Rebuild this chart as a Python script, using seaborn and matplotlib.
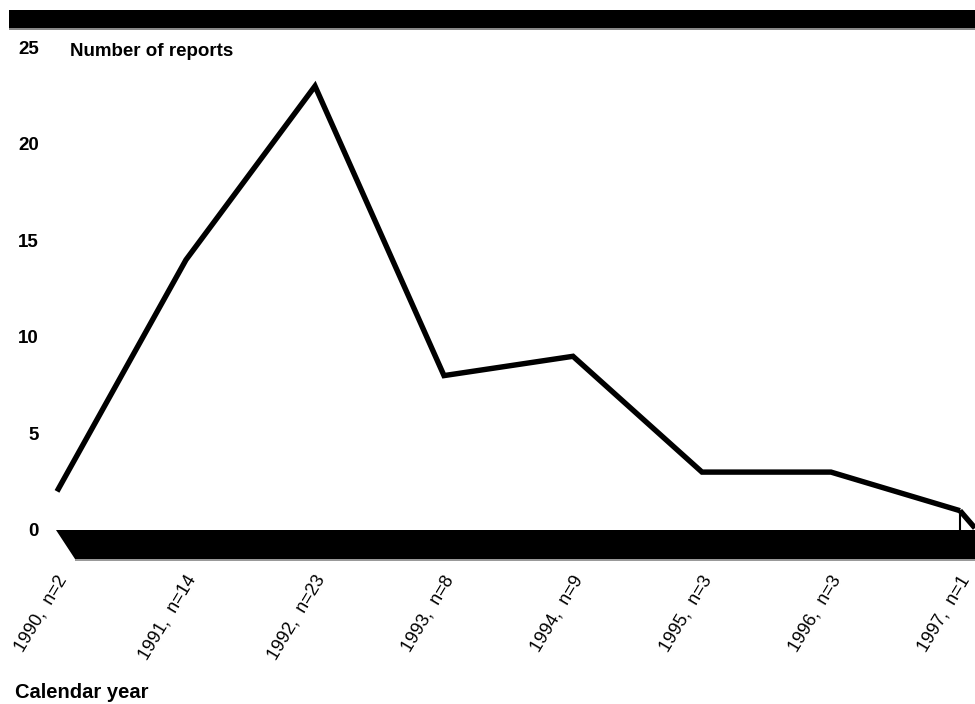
import matplotlib
matplotlib.use("Agg")
import matplotlib.pyplot as plt
import matplotlib.transforms as mtransforms
from matplotlib.patches import Polygon, Rectangle
import seaborn as sns
import pandas as pd

# ---- data ----
years = [1990, 1991, 1992, 1993, 1994, 1995, 1996, 1997]
reports = [2, 14, 23, 8, 9, 3, 3, 1]
tick_labels = ["1990,  n=2", "1991,  n=14", "1992,  n=23", "1993,  n=8",
               "1994,  n=9", "1995,  n=3", "1996,  n=3", "1997,  n=1"]
y_ticks = [0, 5, 10, 15, 20, 25]
y_title = "Number of reports"
x_title = "Calendar year"

df = pd.DataFrame({"year": years, "reports": reports})

sns.set_theme(style="white")
plt.rcParams["font.family"] = ["Liberation Sans", "DejaVu Sans"]

W, H = 975, 704
fig = plt.figure(figsize=(W / 100, H / 100), dpi=100)
fig.patch.set_facecolor("white")

def fx(px):
    return px / W

def fy(py):
    return 1 - py / H

# axes occupies pixels x 50..975, y 10..560
ax = fig.add_axes([fx(50), fy(560), fx(975) - fx(50), fy(10) - fy(560)])
ax.set_facecolor("none")

sns.lineplot(data=df, x="year", y="reports", ax=ax, color="black",
             linewidth=3.9, sort=False, solid_joinstyle="miter",
             solid_capstyle="butt", zorder=3)

px_per_year = 129.0
px_per_unit = 19.3
x0 = 1990 - (57 - 50) / px_per_year
x1 = 1990 + (975 - 57) / px_per_year
y0 = -(560 - 530) / px_per_unit
y1 = (530 - 10) / px_per_unit
ax.set_xlim(x0, x1)
ax.set_ylim(y0, y1)

for s in ax.spines.values():
    s.set_visible(False)

ax.set_xlabel("")
ax.set_ylabel("")

ax.set_yticks(y_ticks)
ax.set_yticklabels([str(v) for v in y_ticks], fontsize=13.5, fontweight="bold",
                   color="black")
ax.tick_params(axis="y", length=0, pad=8)

ax.set_xticks(years)
ax.set_xticklabels(tick_labels, fontsize=13, rotation=59, ha="right",
                   va="center", rotation_mode="anchor", color="black",
                   fontweight="medium")
ax.tick_params(axis="x", length=0, pad=12)
offset = mtransforms.ScaledTranslation(6 / 100, 0, fig.dpi_scale_trans)
for lab in ax.get_xticklabels():
    lab.set_transform(lab.get_transform() + offset)

# end decoration at last point
last_x, last_y = years[-1], reports[-1]
ax.plot([last_x, last_x], [last_y, 0], color="black", lw=1.5, zorder=3)
ax.plot([last_x, x1], [last_y, 0.1], color="black", lw=3.9, zorder=3,
        solid_capstyle="butt", clip_on=False)

# top bar
fig.patches.append(Rectangle((fx(9), fy(28)), fx(975) - fx(9), fy(10) - fy(28),
                             transform=fig.transFigure, facecolor="black",
                             edgecolor="none", zorder=1))
fig.patches.append(Rectangle((fx(9), fy(29.5)), fx(975) - fx(9), fy(28) - fy(29.5),
                             transform=fig.transFigure, facecolor="#888888",
                             edgecolor="none", zorder=1))
# bottom bar (slanted left edge)
fig.patches.append(Polygon([(fx(56), fy(530)), (fx(975), fy(530)),
                            (fx(975), fy(559)), (fx(75), fy(559))],
                           closed=True, transform=fig.transFigure,
                           facecolor="black", edgecolor="none", zorder=1))
fig.patches.append(Rectangle((fx(75), fy(560.5)), fx(975) - fx(75), fy(559) - fy(560.5),
                             transform=fig.transFigure, facecolor="#999999",
                             edgecolor="none", zorder=1))

fig.text(fx(70), fy(56), y_title, fontsize=13.5, fontweight="bold",
         ha="left", va="baseline", color="black")
fig.text(fx(15), fy(698), x_title, fontsize=14.5, fontweight="bold",
         ha="left", va="baseline", color="black")

fig.savefig("out.png", dpi=100, facecolor="white")
